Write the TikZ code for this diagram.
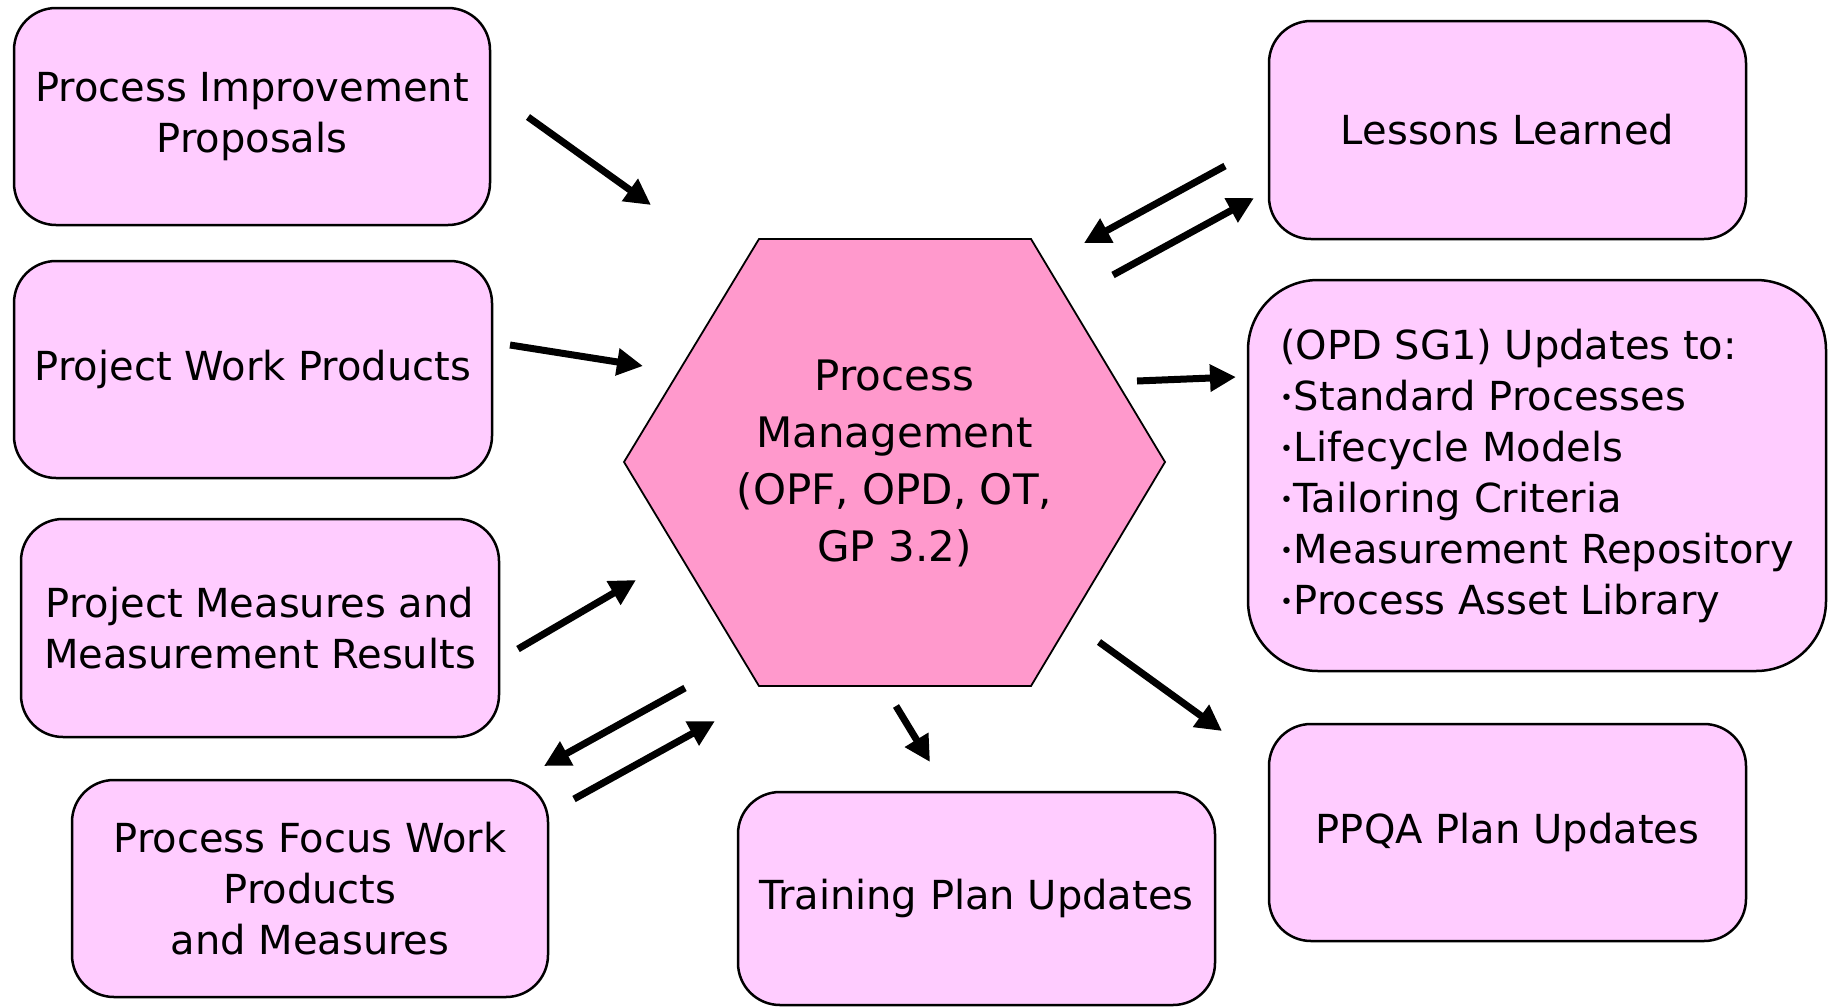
\documentclass[tikz,border=0pt]{standalone}
\usepackage{fontspec}
\setmainfont{DejaVu Sans}
\usetikzlibrary{arrows.meta}
\definecolor{boxpink}{HTML}{FFCCFF}
\definecolor{hexpink}{HTML}{FF99CC}
\newcommand{\itemdot}{\raisebox{4.5pt}{\fontsize{22}{22}\selectfont\textbullet}\hspace{1pt}}
\begin{document}
\begin{tikzpicture}[x=1pt,y=-1pt,
  card/.style={draw=black, line width=2.5pt, fill=boxpink, rounded corners=42pt,
    align=center, font=\fontsize{40}{51}\selectfont, inner sep=0pt},
  flow/.style={line width=7pt, -{Triangle[length=26pt,width=26pt]}}]
  \useasboundingbox (0,0) rectangle (1829,1007);

  % outer work products and updates
  \node[card, minimum width=476pt, minimum height=217pt] (pip) at (252,116.5)
    {Process Improvement\\Proposals};
  \node[card, minimum width=478pt, minimum height=217pt] (pwp) at (253,369.5)
    {Project Work Products};
  \node[card, minimum width=478pt, minimum height=218pt] (pmr) at (260,628)
    {Project Measures and\\Measurement Results};
  \node[card, minimum width=476pt, minimum height=217pt] (pfw) at (310,888.5)
    {Process Focus Work\\Products\\and Measures};
  \node[card, minimum width=477pt, minimum height=213pt] (tpu) at (976.5,898.5)
    {Training Plan Updates};
  \node[card, minimum width=477pt, minimum height=217pt] (ppqa) at (1507.5,832.5)
    {PPQA Plan Updates};
  \node[card, minimum width=477pt, minimum height=218pt] (ll) at (1507.5,130)
    {Lessons Learned};
  \node[card, align=left, rounded corners=70pt, minimum width=578pt, minimum height=391pt] (opd) at (1537,475.5)
    {(OPD SG1) Updates to:\\
     \itemdot Standard Processes\\
     \itemdot Lifecycle Models\\
     \itemdot Tailoring Criteria\\
     \itemdot Measurement Repository\\
     \itemdot Process Asset Library};

  % central hexagon
  \coordinate (h1) at (759,239);
  \coordinate (h2) at (1031,239);
  \coordinate (h3) at (1165,462);
  \coordinate (h4) at (1031,686);
  \coordinate (h5) at (759,686);
  \coordinate (h6) at (624,462);
  \draw[fill=hexpink, line width=1.8pt, line join=miter] (h1) -- (h2) -- (h3) -- (h4) -- (h5) -- (h6) -- cycle;
  \node[align=center, font=\fontsize{42}{57}\selectfont] (pm) at (894.5,463)
    {Process\\Management\\(OPF, OPD, OT,\\GP 3.2)};

  % arrow end points
  \coordinate (a1s) at (528,117);   \coordinate (a1e) at (651,205);
  \coordinate (a2s) at (510,345);   \coordinate (a2e) at (643,366);
  \coordinate (a3s) at (518,649);   \coordinate (a3e) at (636,580);
  \coordinate (a4s) at (685,688);   \coordinate (a4e) at (544,766);
  \coordinate (a5s) at (574,799);   \coordinate (a5e) at (715,721);
  \coordinate (a6s) at (896,706);   \coordinate (a6e) at (930,762);
  \coordinate (a7s) at (1099,642);  \coordinate (a7e) at (1222,731);
  \coordinate (a8s) at (1137,381);  \coordinate (a8e) at (1236,377);
  \coordinate (a9s) at (1225,166);  \coordinate (a9e) at (1084,243);
  \coordinate (a10s) at (1113,275); \coordinate (a10e) at (1254,198);

  \draw[flow] (a1s) -- (a1e);
  \draw[flow] (a2s) -- (a2e);
  \draw[flow] (a3s) -- (a3e);
  \draw[flow] (a4s) -- (a4e);
  \draw[flow] (a5s) -- (a5e);
  \draw[flow] (a6s) -- (a6e);
  \draw[flow] (a7s) -- (a7e);
  \draw[flow] (a8s) -- (a8e);
  \draw[flow] (a9s) -- (a9e);
  \draw[flow] (a10s) -- (a10e);
\end{tikzpicture}
\end{document}
